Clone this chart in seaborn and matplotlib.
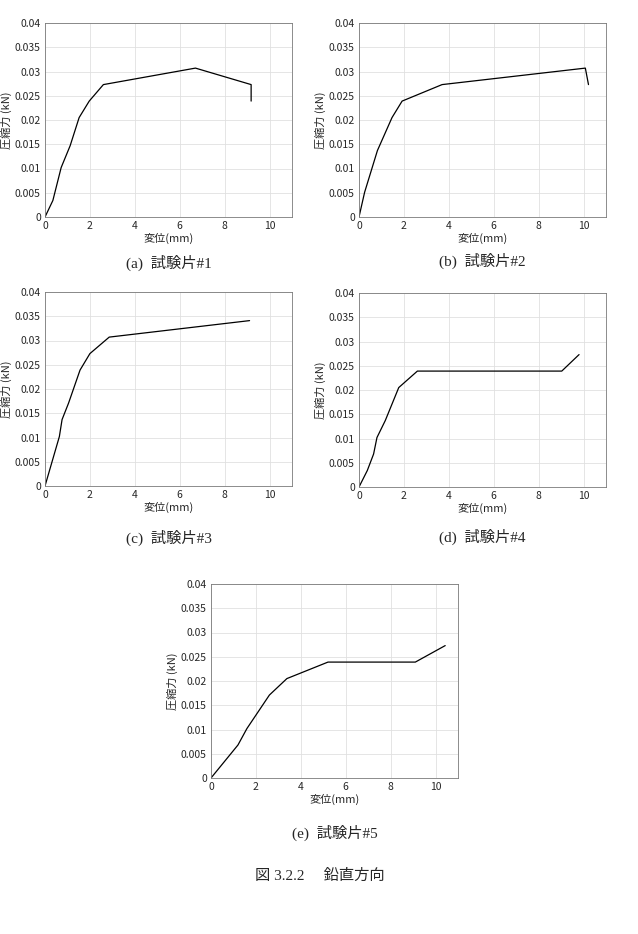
import numpy as np
import pandas as pd
import seaborn as sns
import matplotlib.pyplot as plt

sns.set_style('white')
plt.rcParams['font.family'] = ['Noto Sans CJK JP', 'DejaVu Sans']

# 変位(mm) と 圧縮力(kN)
x1 = [0, 0.35, 0.72, 1.12, 1.52, 1.97, 2.6, 6.7, 9.18, 9.18]
y1 = [0, 0.0034, 0.0102, 0.0147, 0.0205, 0.0239, 0.0273, 0.0307, 0.0273, 0.0239]

x2 = [0, 0.25, 0.82, 1.47, 1.92, 3.7, 10.08, 10.22]
y2 = [0, 0.0051, 0.0137, 0.0205, 0.0239, 0.0273, 0.0307, 0.0273]

x3 = [0, 0.64, 0.76, 1.05, 1.56, 2.0, 2.86, 9.11]
y3 = [0, 0.0102, 0.0137, 0.0171, 0.0239, 0.0273, 0.0307, 0.0341]

x4 = [0, 0.37, 0.65, 0.8, 1.17, 1.77, 2.6, 9.03, 9.8]
y4 = [0, 0.0034, 0.0068, 0.0102, 0.0137, 0.0205, 0.0239, 0.0239, 0.0273]

x5 = [0, 1.2, 1.6, 2.6, 3.38, 5.21, 9.1, 10.43]
y5 = [0, 0.0068, 0.0102, 0.0171, 0.0205, 0.0239, 0.0239, 0.0273]

captions = ['(a)  試験片#1', '(b)  試験片#2', '(c)  試験片#3', '(d)  試験片#4', '(e)  試験片#5']
yticks = [0, 0.005, 0.01, 0.015, 0.02, 0.025, 0.03, 0.035, 0.04]
ytick_labels = ['0', '0.005', '0.01', '0.015', '0.02', '0.025', '0.03', '0.035', '0.04']
xticks = [0, 2, 4, 6, 8, 10]

W, H = 638, 934
fig = plt.figure(figsize=(W / 100, H / 100), dpi=100)

# axes boxes in pixels: left, top, right, bottom
boxes = [(45, 23, 292, 217), (359, 23, 606, 217),
         (45, 292, 292, 486), (359, 293, 606, 487),
         (211, 584, 458, 778)]
caption_y = [263, 261, 538, 537, 833]
series = [(x1, y1), (x2, y2), (x3, y3), (x4, y4), (x5, y5)]

serif = ['Liberation Serif', 'Noto Sans CJK JP']

for (xs, ys), (l, t, r, b), cap, cy in zip(series, boxes, captions, caption_y):
    ax = fig.add_axes([l / W, 1 - b / H, (r - l) / W, (b - t) / H])
    df = pd.DataFrame({'変位': xs, '圧縮力': ys})
    sns.lineplot(data=df, x='変位', y='圧縮力', sort=False, estimator=None,
                 color='black', linewidth=0.9, ax=ax)
    ax.set_xlim(0, 11)
    ax.set_ylim(0, 0.04)
    ax.set_xticks(xticks)
    ax.set_xticklabels([str(v) for v in xticks])
    ax.set_yticks(yticks)
    ax.set_yticklabels(ytick_labels)
    ax.grid(True, color='#e0e0e0', linewidth=0.6)
    ax.tick_params(direction='in', length=2.5, width=0.5, labelsize=7.5,
                   colors='#262626', pad=3)
    for sp in ax.spines.values():
        sp.set_color('#7a7a7a')
        sp.set_linewidth(0.6)
    ax.set_xlabel('変位(mm)', fontsize=8, labelpad=1, color='#262626')
    ax.set_ylabel('圧縮力 (kN)', fontsize=8, labelpad=2, color='#262626')
    cx = (l + r) / 2 / W
    fig.text(cx, 1 - cy / H, cap, ha='center', va='center', fontsize=11,
             family=serif)

fig.text(320 / W, 1 - 876 / H, '図 3.2.2　 鉛直方向', ha='center', va='center',
         fontsize=11, family=serif)

fig.savefig('out.png', dpi=100, facecolor='white')
